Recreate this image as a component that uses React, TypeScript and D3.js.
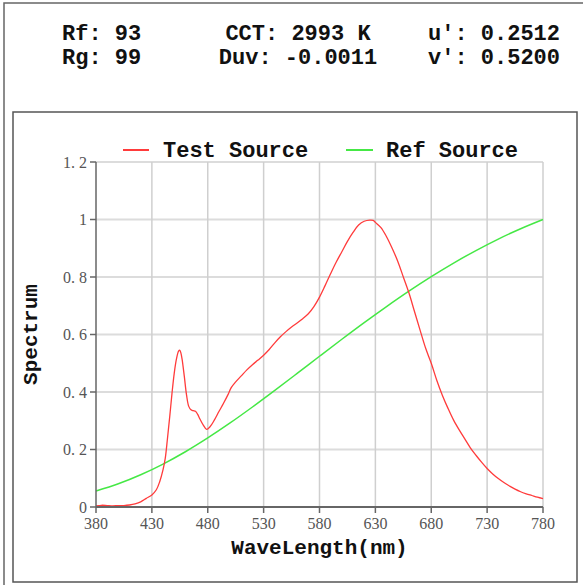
import * as d3 from 'd3'

const W = 583
const H = 585

// header readings
const headerLeft = ['Rf: 93', 'Rg: 99']
const headerMid = ['CCT: 2993 K', 'Duv: -0.0011']
const headerRight = ["u': 0.2512", "v': 0.5200"]

const legendLabels = ['Test Source', 'Ref Source']

const xTicks = [380, 430, 480, 530, 580, 630, 680, 730, 780]
const yTicks = [0, 0.2, 0.4, 0.6, 0.8, 1, 1.2]

// test source spectrum
const testWl = [
  380, 385, 390, 395, 400, 405, 410, 415, 420, 425, 430, 434, 437, 440, 442, 444, 446, 448, 450, 452,
  454, 455, 456, 457, 459, 461, 463, 465, 467, 469, 471, 473, 476, 479, 482, 486, 490, 494, 498, 501,
  505, 510, 515, 520, 525, 530, 535, 540, 545, 550, 555, 560, 565, 570, 575, 580, 585, 590, 595, 600,
  605, 610, 615, 620, 625, 628, 630, 635, 640, 645, 650, 655, 660, 665, 670, 675, 680, 685, 690, 695,
  700, 705, 710, 715, 720, 725, 730, 735, 740, 745, 750, 755, 760, 765, 770, 775, 780,
]
const testVal = [
  0.004, 0.006, 0.005, 0.004, 0.005, 0.005, 0.007, 0.011, 0.018, 0.03, 0.042, 0.06, 0.088, 0.13, 0.17,
  0.24, 0.315, 0.395, 0.465, 0.515, 0.543, 0.545, 0.535, 0.515, 0.455, 0.39, 0.35, 0.338, 0.335, 0.333,
  0.322, 0.306, 0.285, 0.27, 0.279, 0.303, 0.332, 0.36, 0.39, 0.415, 0.435, 0.456, 0.477, 0.495, 0.511,
  0.528, 0.548, 0.571, 0.592, 0.61, 0.626, 0.64, 0.655, 0.672, 0.697, 0.73, 0.77, 0.812, 0.852, 0.888,
  0.924, 0.955, 0.981, 0.994, 0.998, 0.997, 0.99, 0.972, 0.94, 0.9, 0.855, 0.8, 0.745, 0.68, 0.615,
  0.552, 0.5, 0.44, 0.388, 0.343, 0.302, 0.268, 0.237, 0.206, 0.18, 0.156, 0.134, 0.115, 0.099, 0.085,
  0.073, 0.062, 0.053, 0.046, 0.04, 0.034, 0.029,
]

// reference (blackbody) spectrum
const refWl = [380, 400, 420, 440, 460, 480, 500, 520, 540, 560, 580, 600, 620, 640, 660, 680, 700, 720, 740, 760, 780]
const refVal = [
  0.0554, 0.0806, 0.112, 0.1493, 0.1922, 0.2402, 0.2923, 0.3478, 0.4056, 0.4647, 0.5243, 0.5834, 0.6413,
  0.6972, 0.7508, 0.8013, 0.8485, 0.892, 0.932, 0.9679, 1,
]

const RED = '#ff3b3b'
const GREEN = '#45e845'
const MONO = '"Liberation Mono", "DejaVu Sans Mono", monospace'
const SERIF = '"Liberation Serif", "DejaVu Serif", serif'

const plot = { left: 96, right: 543, top: 162, bottom: 507 }

export default function App() {
  const x = d3.scaleLinear().domain([380, 780]).range([plot.left, plot.right])
  const y = d3.scaleLinear().domain([0, 1.2]).range([plot.bottom, plot.top])

  const line = d3
    .line<[number, number]>()
    .x((d) => x(d[0]))
    .y((d) => y(d[1]))
    .curve(d3.curveCatmullRom)

  const testPath = line(testWl.map((w, i) => [w, testVal[i]])) ?? ''
  const refPath = line(refWl.map((w, i) => [w, refVal[i]])) ?? ''

  const fmt = (v: number) => String(v).replace('.', '. ')

  return (
    <svg
      width={W}
      height={H}
      style={{ position: 'absolute', left: 0, top: 0, background: '#fff' }}
    >
      {/* outer frame */}
      <rect x={4} y={3} width={W + 10} height={H + 10} fill="none" stroke="#666" strokeWidth={1.5} />

      {/* header readings */}
      <g fontFamily={MONO} fontWeight="bold" fontSize={22} fill="#111">
        {headerLeft.map((t, i) => (
          <text key={t} x={62} y={40 + i * 24}>{t}</text>
        ))}
        {headerMid.map((t, i) => (
          <text key={t} x={298} y={40 + i * 24} textAnchor="middle">{t}</text>
        ))}
        {headerRight.map((t, i) => (
          <text key={t} x={428} y={40 + i * 24}>{t}</text>
        ))}
      </g>

      {/* chart box */}
      <rect x={13} y={112} width={564} height={470} fill="#fff" stroke="#555" strokeWidth={1.5} />

      {/* legend */}
      <g fontFamily={MONO} fontWeight="bold" fontSize={22} fill="#111">
        <line x1={123} x2={149} y1={150} y2={150} stroke={RED} strokeWidth={2} />
        <text x={163} y={157}>{legendLabels[0]}</text>
        <line x1={346} x2={373} y1={150} y2={150} stroke={GREEN} strokeWidth={2} />
        <text x={386} y={157}>{legendLabels[1]}</text>
      </g>

      {/* grid */}
      <g>
        {yTicks.filter((t) => t > 0).map((t) => (
          <line key={`gy${t}`} x1={plot.left} x2={plot.right} y1={y(t)} y2={y(t)} stroke="#dcdcdc" strokeWidth={2} />
        ))}
        {xTicks.filter((t) => t > 380).map((t) => (
          <line key={`gx${t}`} x1={x(t)} x2={x(t)} y1={plot.top} y2={plot.bottom} stroke="#cfcfcf" strokeWidth={1.5} />
        ))}
      </g>

      {/* series */}
      <path d={refPath} fill="none" stroke={GREEN} strokeWidth={1.5} />
      <path d={testPath} fill="none" stroke={RED} strokeWidth={1.3} />

      {/* axes */}
      <g stroke="#666" strokeWidth={1.5}>
        <line x1={plot.left} x2={plot.left} y1={plot.top} y2={plot.bottom} />
        <line x1={plot.left} x2={plot.right} y1={plot.bottom} y2={plot.bottom} strokeWidth={2} />
        {yTicks.map((t) => (
          <line key={`ty${t}`} x1={plot.left - 6} x2={plot.left} y1={y(t)} y2={y(t)} />
        ))}
        {xTicks.map((t) => (
          <line key={`tx${t}`} x1={x(t)} x2={x(t)} y1={plot.bottom} y2={plot.bottom + 6} />
        ))}
      </g>

      <g fontFamily={SERIF} fontSize={16} fill="#555">
        {yTicks.map((t) => (
          <text key={`ly${t}`} x={plot.left - 9} y={y(t)} dy="0.35em" textAnchor="end">{fmt(t)}</text>
        ))}
        {xTicks.map((t) => (
          <text key={`lx${t}`} x={x(t)} y={529} textAnchor="middle">{t}</text>
        ))}
      </g>

      {/* axis titles */}
      <g fontFamily={MONO} fontWeight="bold" fontSize={21} fill="#111">
        <text x={(plot.left + plot.right) / 2} y={554} textAnchor="middle">WaveLength(nm)</text>
        <text transform={`translate(37,${(plot.top + plot.bottom) / 2}) rotate(-90)`} textAnchor="middle">Spectrum</text>
      </g>
    </svg>
  )
}
